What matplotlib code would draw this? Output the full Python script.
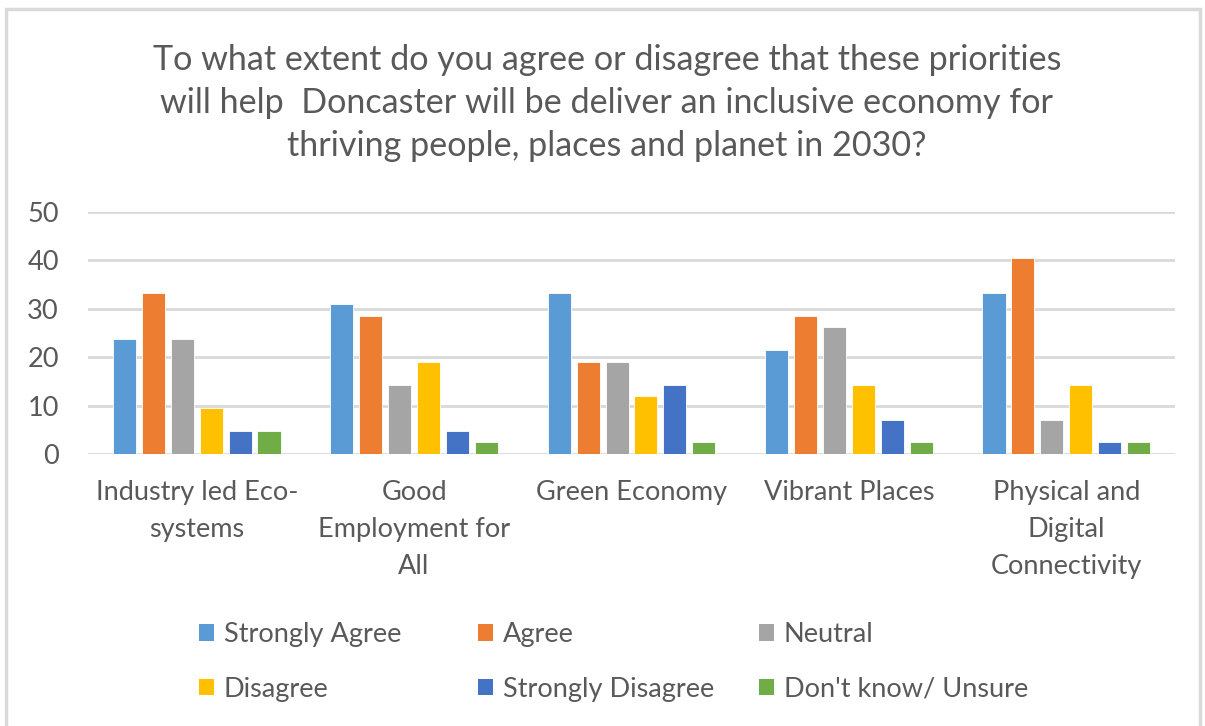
import numpy as np
import matplotlib.pyplot as plt
from matplotlib.patches import Rectangle, Patch

# Data (percent of respondents)
categories = ['Industry led Eco-\nsystems', 'Good\nEmployment for\nAll', 'Green Economy',
              'Vibrant Places', 'Physical and\nDigital\nConnectivity']
series_names = ['Strongly Agree', 'Agree', 'Neutral', 'Disagree', 'Strongly Disagree', "Don't know/ Unsure"]
strongly_agree = [23.8, 31.0, 33.3, 21.4, 33.3]
agree = [33.3, 28.6, 19.0, 28.6, 40.5]
neutral = [23.8, 14.3, 19.0, 26.2, 7.1]
disagree = [9.5, 19.0, 11.9, 14.3, 14.3]
strongly_disagree = [4.8, 4.8, 14.3, 7.1, 2.4]
dont_know = [4.8, 2.4, 2.4, 2.4, 2.4]
yticks = [0, 10, 20, 30, 40, 50]

series = [strongly_agree, agree, neutral, disagree, strongly_disagree, dont_know]
colors = ['#5B9BD5', '#ED7D31', '#A5A5A5', '#FFC000', '#4472C4', '#70AD47']

plt.rcParams['font.family'] = ['Lato', 'DejaVu Sans']
txt = '#595959'

fig = plt.figure(figsize=(12.05, 7.26), dpi=100)
# chart border
fig.patches.append(Rectangle((6 / 1205, -0.01), 1194 / 1205, 1 - 9 / 726 + 0.01,
                             transform=fig.transFigure, fill=False,
                             edgecolor='#d9d9d9', linewidth=2.5))

ax = fig.add_axes([88 / 1205, 1 - 454 / 726, 1087 / 1205, 242 / 726])

x = np.arange(len(categories))
step = 0.133
width = 0.106
for i, (vals, col) in enumerate(zip(series, colors)):
    ax.bar(x + (i - 2.5) * step, vals, width, color=col, edgecolor='white',
           linewidth=0.6, zorder=3)

ax.set_xlim(-0.5, len(categories) - 0.5)
ax.set_ylim(0, 50)
ax.set_yticks(yticks)
ax.yaxis.grid(True, color='#d9d9d9', linewidth=2, zorder=0)
for s in ax.spines.values():
    s.set_visible(False)
ax.tick_params(axis='both', length=0, colors=txt, labelsize=19.5)
ax.tick_params(axis='y', pad=21)
ax.tick_params(axis='x', pad=19)
ax.set_xticks(x)
ax.set_xticklabels(categories, linespacing=1.6, va='top')

fig.text(607 / 1205, 1 - 103 / 726, 'To what extent do you agree or disagree that these priorities\n'
         'will help  Doncaster will be deliver an inclusive economy for\n'
         'thriving people, places and planet in 2030?',
         ha='center', va='center', color=txt, fontsize=24.6, linespacing=1.43)

# legend: three equal-width columns, two rows
columns = [[0, 3], [1, 4], [2, 5]]
col_x = [199, 478, 759]
for idx, cx in zip(columns, col_x):
    handles = [Patch(facecolor=colors[k]) for k in idx]
    labels = [series_names[k] for k in idx]
    fig.legend(handles, labels, ncol=1, loc='center left',
               bbox_to_anchor=(cx / 1205, 1 - 662 / 726),
               frameon=False, fontsize=19.5, labelcolor=txt, handlelength=0.55,
               handleheight=0.55, handletextpad=0.37, labelspacing=1.1,
               borderpad=0, borderaxespad=0)

fig.savefig('out.png', dpi=100)
